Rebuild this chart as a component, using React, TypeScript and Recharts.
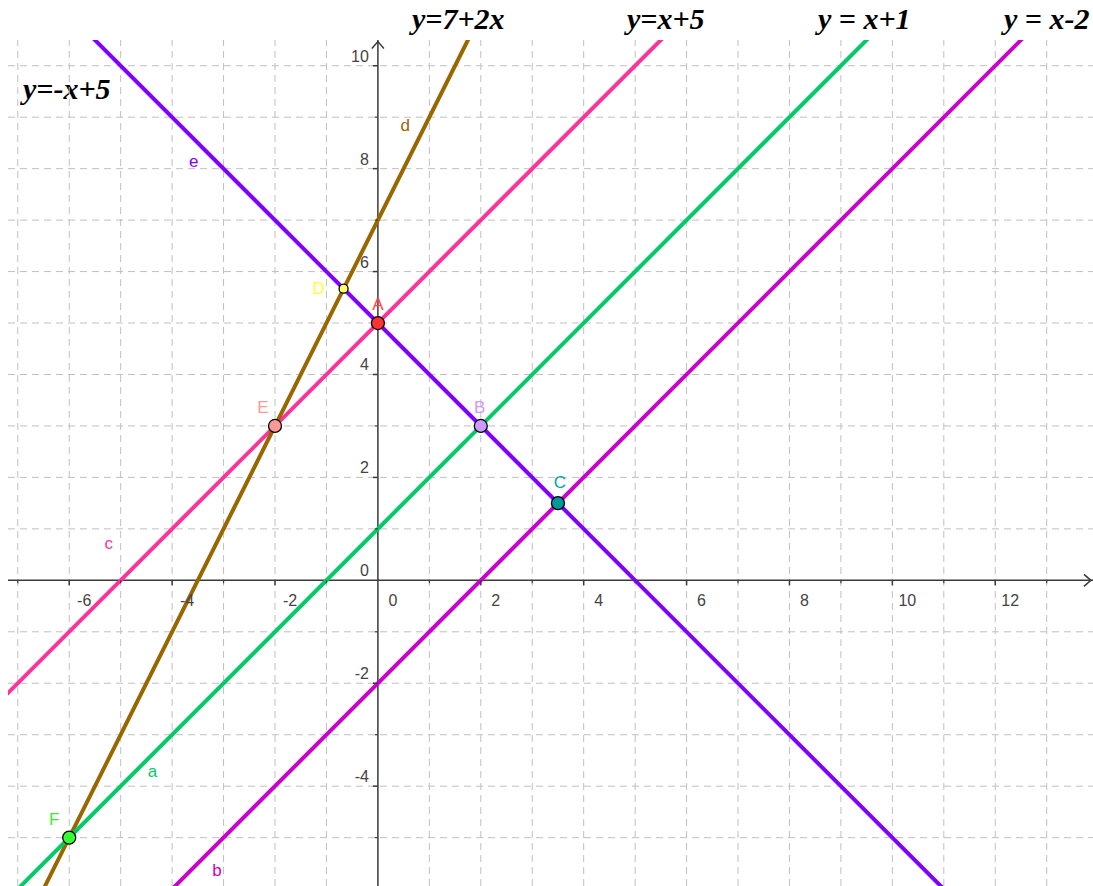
import React from "react";
import {
  ComposedChart,
  Line,
  XAxis,
  YAxis,
  ReferenceLine,
  ReferenceDot,
  Customized,
} from "recharts";

// grid positions (one unit apart) and axis labels
const gridX = [-7, -6, -5, -4, -3, -2, -1, 1, 2, 3, 4, 5, 6, 7, 8, 9, 10, 11, 12, 13];
const gridY = [-5, -4, -3, -2, -1, 1, 2, 3, 4, 5, 6, 7, 8, 9, 10];
const xLabels = [-6, -4, -2, 0, 2, 4, 6, 8, 10, 12];
const yLabels = [-4, -2, 0, 2, 4, 6, 8, 10];
const xMinor = [-7, -5, -3, -1, 1, 3, 5, 7, 9, 11, 13];
const yMinor = [-5, -3, -1, 1, 3, 5, 7, 9];

// the five lines, each given by two far-apart points
const lineNames = ["c", "d", "a", "b", "e"];
const lineC = [{ x: -8, y: -3 }, { x: 8, y: 13 }]; // y = x + 5
const lineD = [{ x: -7.5, y: -8 }, { x: 2, y: 11 }]; // y = 7 + 2x
const lineA = [{ x: -8, y: -7 }, { x: 12, y: 13 }]; // y = x + 1
const lineB = [{ x: -5, y: -7 }, { x: 15, y: 13 }]; // y = x - 2
const lineE = [{ x: -8, y: 13 }, { x: 15, y: -10 }]; // y = -x + 5

// intersection points
const pointNames = ["A", "B", "C", "D", "E", "F"];
const pointX = [0, 2, 3.5, -0.667, -2, -6];
const pointY = [5, 3, 1.5, 5.667, 3, -5];

// where the small line names sit
const lineLabelNames = ["e", "d", "c", "a", "b"];
const lineLabelX = [-3.58, 0.53, -5.23, -4.38, -3.13];
const lineLabelY = [8.04, 8.74, 0.6, -3.82, -5.75];

const equations = ["y=-x+5", "y=7+2x", "y=x+5", "y = x+1", "y = x-2"];

const X_DOMAIN = [-7.19, 13.9];
const Y_DOMAIN = [-5.94, 10.5];

const AXIS = "#3a3a3a";
const GRID = "#c0c0c0";
const SANS = "'Liberation Sans', Arial, sans-serif";

const lineColors: Record<string, string> = {
  c: "#ff3399",
  d: "#996600",
  a: "#00cc66",
  b: "#cc00cc",
  e: "#7f00ff",
};
const lineData: Record<string, { x: number; y: number }[]> = {
  c: lineC,
  d: lineD,
  a: lineA,
  b: lineB,
  e: lineE,
};

const pointStyle: Record<
  string,
  { fill: string; text: string; r: number; dx: number; dy: number }
> = {
  A: { fill: "#ff3333", text: "#ff4444", r: 6.5, dx: 0, dy: -13 },
  B: { fill: "#cc99ff", text: "#cc99ff", r: 6.5, dx: -1, dy: -13 },
  C: { fill: "#009999", text: "#00a3a3", r: 6.5, dx: 2, dy: -15 },
  D: { fill: "#ffff66", text: "#ffff33", r: 4.5, dx: -25, dy: 5 },
  E: { fill: "#ff9999", text: "#ff9999", r: 6.5, dx: -12, dy: -13 },
  F: { fill: "#33ff33", text: "#33ee33", r: 6.5, dx: -15, dy: -13 },
};

// page pixel anchors for the equation captions
const equationPos = [
  [23, 99],
  [412, 29],
  [627, 29],
  [818, 29],
  [1004, 29],
];

const EquationText = () => (
  <g>
    {equations.map((t, i) => (
      <text
        key={t}
        x={equationPos[i][0]}
        y={equationPos[i][1]}
        fontFamily="'Liberation Serif', 'Times New Roman', serif"
        fontWeight="bold"
        fontStyle="italic"
        fontSize={30}
        fill="#000"
        style={{ whiteSpace: "pre" }}
      >
        {t}
      </text>
    ))}
  </g>
);

export default function App() {
  return (
    <div style={{ position: "absolute", left: 0, top: 0, width: 1093, height: 886 }}>
      <ComposedChart
        width={1093}
        height={886}
        margin={{ top: 40, right: 0, bottom: 0, left: 8 }}
      >
        <XAxis
          dataKey="x"
          type="number"
          domain={X_DOMAIN}
          allowDataOverflow
          hide
        />
        <YAxis
          dataKey="y"
          type="number"
          domain={Y_DOMAIN}
          allowDataOverflow
          hide
        />

        {gridX.map((v) => (
          <ReferenceLine key={"gx" + v} x={v} stroke={GRID} strokeDasharray="7 5" />
        ))}
        {gridY.map((v) => (
          <ReferenceLine key={"gy" + v} y={v} stroke={GRID} strokeDasharray="7 5" />
        ))}

        <ReferenceLine x={0} stroke={AXIS} strokeWidth={1.5} />
        <ReferenceLine y={0} stroke={AXIS} strokeWidth={1.5} />

        {xMinor.map((v) => (
          <ReferenceDot
            key={"xm" + v}
            x={v}
            y={0}
            r={0}
            shape={(p: any) => (
              <line x1={p.cx} y1={p.cy} x2={p.cx} y2={p.cy + 3} stroke={AXIS} strokeWidth={1.2} />
            )}
          />
        ))}
        {yMinor.map((v) => (
          <ReferenceDot
            key={"ym" + v}
            x={0}
            y={v}
            r={0}
            shape={(p: any) => (
              <line x1={p.cx} y1={p.cy} x2={p.cx - 3} y2={p.cy} stroke={AXIS} strokeWidth={1.2} />
            )}
          />
        ))}
        {xLabels.map((v) => (
          <ReferenceDot
            key={"xl" + v}
            x={v}
            y={0}
            r={0}
            shape={(p: any) => (
              <g>
                {v !== 0 && (
                  <line x1={p.cx} y1={p.cy} x2={p.cx} y2={p.cy + 5} stroke={AXIS} strokeWidth={1.5} />
                )}
                <text
                  x={p.cx + 15}
                  y={p.cy + 26}
                  textAnchor="middle"
                  fontFamily={SANS}
                  fontSize={16}
                  fill="#444"
                >
                  {v}
                </text>
              </g>
            )}
          />
        ))}
        {yLabels.map((v) => (
          <ReferenceDot
            key={"yl" + v}
            x={0}
            y={v}
            r={0}
            shape={(p: any) => (
              <g>
                {v !== 0 && (
                  <line x1={p.cx} y1={p.cy} x2={p.cx - 5} y2={p.cy} stroke={AXIS} strokeWidth={1.5} />
                )}
                <text
                  x={p.cx - 9}
                  y={p.cy - 4}
                  textAnchor="end"
                  fontFamily={SANS}
                  fontSize={16}
                  fill="#444"
                >
                  {v}
                </text>
              </g>
            )}
          />
        ))}
        {/* axis arrow heads */}
        <ReferenceDot
          x={13.86}
          y={0}
          r={0}
          shape={(p: any) => (
            <path
              d={`M${p.cx - 7},${p.cy - 6} L${p.cx},${p.cy} L${p.cx - 7},${p.cy + 6}`}
              fill="none"
              stroke={AXIS}
              strokeWidth={1.5}
            />
          )}
        />
        <ReferenceDot
          x={0}
          y={10.47}
          r={0}
          shape={(p: any) => (
            <path
              d={`M${p.cx - 6},${p.cy + 7} L${p.cx},${p.cy} L${p.cx + 6},${p.cy + 7}`}
              fill="none"
              stroke={AXIS}
              strokeWidth={1.5}
            />
          )}
        />

        {lineNames.map((n) => (
          <Line
            key={n}
            data={lineData[n]}
            dataKey="y"
            type="linear"
            stroke={lineColors[n]}
            strokeWidth={4}
            dot={false}
            activeDot={false}
            isAnimationActive={false}
          />
        ))}

        {lineLabelNames.map((n, i) => (
          <ReferenceDot
            key={"ll" + n}
            x={lineLabelX[i]}
            y={lineLabelY[i]}
            r={0}
            shape={(p: any) => (
              <text
                x={p.cx}
                y={p.cy}
                textAnchor="middle"
                fontFamily={SANS}
                fontSize={17}
                fill={lineColors[n]}
              >
                {n}
              </text>
            )}
          />
        ))}

        {pointNames.map((n, i) => {
          const s = pointStyle[n];
          return (
            <ReferenceDot
              key={"pt" + n}
              x={pointX[i]}
              y={pointY[i]}
              r={s.r}
              shape={(p: any) => (
                <g>
                  <circle
                    cx={p.cx}
                    cy={p.cy}
                    r={s.r}
                    fill={s.fill}
                    stroke="#000"
                    strokeWidth={1.3}
                  />
                  <text
                    x={p.cx + s.dx}
                    y={p.cy + s.dy}
                    textAnchor="middle"
                    fontFamily={SANS}
                    fontSize={17}
                    fill={s.text}
                  >
                    {n}
                  </text>
                </g>
              )}
            />
          );
        })}

        <Customized component={EquationText} />
      </ComposedChart>
    </div>
  );
}
